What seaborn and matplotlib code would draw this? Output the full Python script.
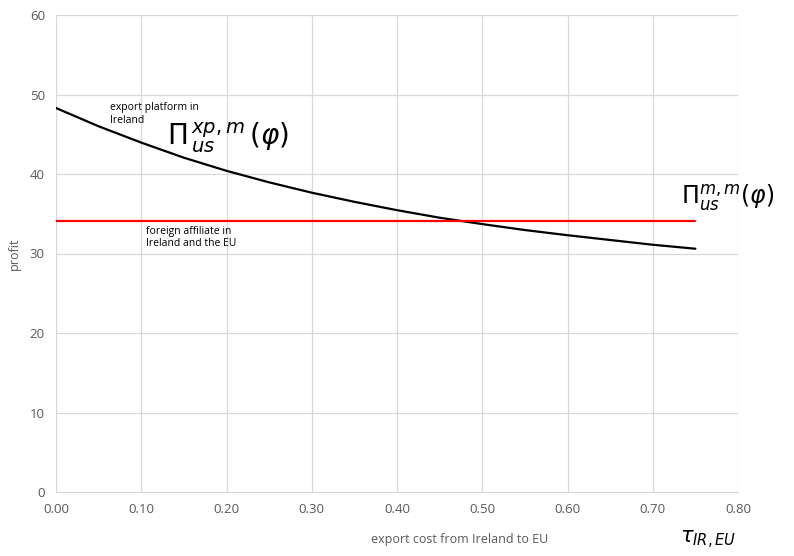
import numpy as np
import pandas as pd
import matplotlib
matplotlib.use('Agg')
import matplotlib.pyplot as plt
import seaborn as sns

# Data
export_cost = [0.00, 0.05, 0.10, 0.15, 0.20, 0.25, 0.30, 0.35,
               0.40, 0.45, 0.50, 0.55, 0.60, 0.65, 0.70, 0.75]
export_platform = [48.3, 46.0, 43.95, 42.05, 40.4, 38.95, 37.65, 36.5,
                   35.45, 34.5, 33.7, 32.95, 32.3, 31.7, 31.1, 30.6]
affiliate_cost = [0.00, 0.75]
affiliate_profit = [34.1, 34.1]
x_ticks = [0.0, 0.1, 0.2, 0.3, 0.4, 0.5, 0.6, 0.7, 0.8]
y_ticks = [0, 10, 20, 30, 40, 50, 60]

sns.set_style('white')
plt.rcParams['font.family'] = ['Open Sans', 'DejaVu Sans']

df_xp = pd.DataFrame({'cost': export_cost, 'profit': export_platform})
df_fa = pd.DataFrame({'cost': affiliate_cost, 'profit': affiliate_profit})

fig = plt.figure(figsize=(7.94, 5.56), dpi=100)
ax = fig.add_axes([56 / 794, 1 - 492 / 556, 682 / 794, 477 / 556])

sns.lineplot(data=df_xp, x='cost', y='profit', color='black', linewidth=1.6, ax=ax)
sns.lineplot(data=df_fa, x='cost', y='profit', color='#ff0000', linewidth=1.6, ax=ax)

ax.set_xlim(0, 0.8)
ax.set_ylim(0, 60)
ax.set_xticks(x_ticks)
ax.set_xticklabels([f'{t:.2f}' for t in x_ticks])
ax.set_yticks(y_ticks)
ax.grid(True, color='#d9d9d9', linewidth=0.9)
for s in ['top', 'right', 'left']:
    ax.spines[s].set_visible(False)
ax.spines['bottom'].set_color('#d9d9d9')
ax.tick_params(axis='both', length=0, labelsize=9.5, colors='#595959', pad=8)

ax.set_xlabel('')
ax.set_ylabel('profit', fontsize=9, color='#595959')
ax.yaxis.set_label_coords(-0.052, 0.5)
fig.text(460 / 794, 1 - 540 / 556, 'export cost from Ireland to EU', fontsize=9,
         color='#595959', ha='center', va='center')

# series labels
ax.text(0.063, 49.0, 'export platform in\nIreland', fontsize=7.5, va='top', ha='left',
        color='black')
ax.text(0.106, 33.5, 'foreign affiliate in\nIreland and the EU', fontsize=7.5, va='top',
        ha='left', color='black')

# handwritten-style annotations
ax.text(0.13, 44.6, r'$\Pi^{\,xp,m}_{\,us}\,(\varphi)$', fontsize=20, va='center', ha='left',
        color='black')
ax.text(0.733, 37.0, r'$\Pi^{m,m}_{us}(\varphi)$', fontsize=17, va='center', ha='left',
        clip_on=False, color='black')
fig.text(680 / 794, 1 - 540 / 556, r'$\tau_{IR,EU}$', fontsize=15, ha='left', va='center',
         color='black')

fig.savefig('out.png', dpi=100)
